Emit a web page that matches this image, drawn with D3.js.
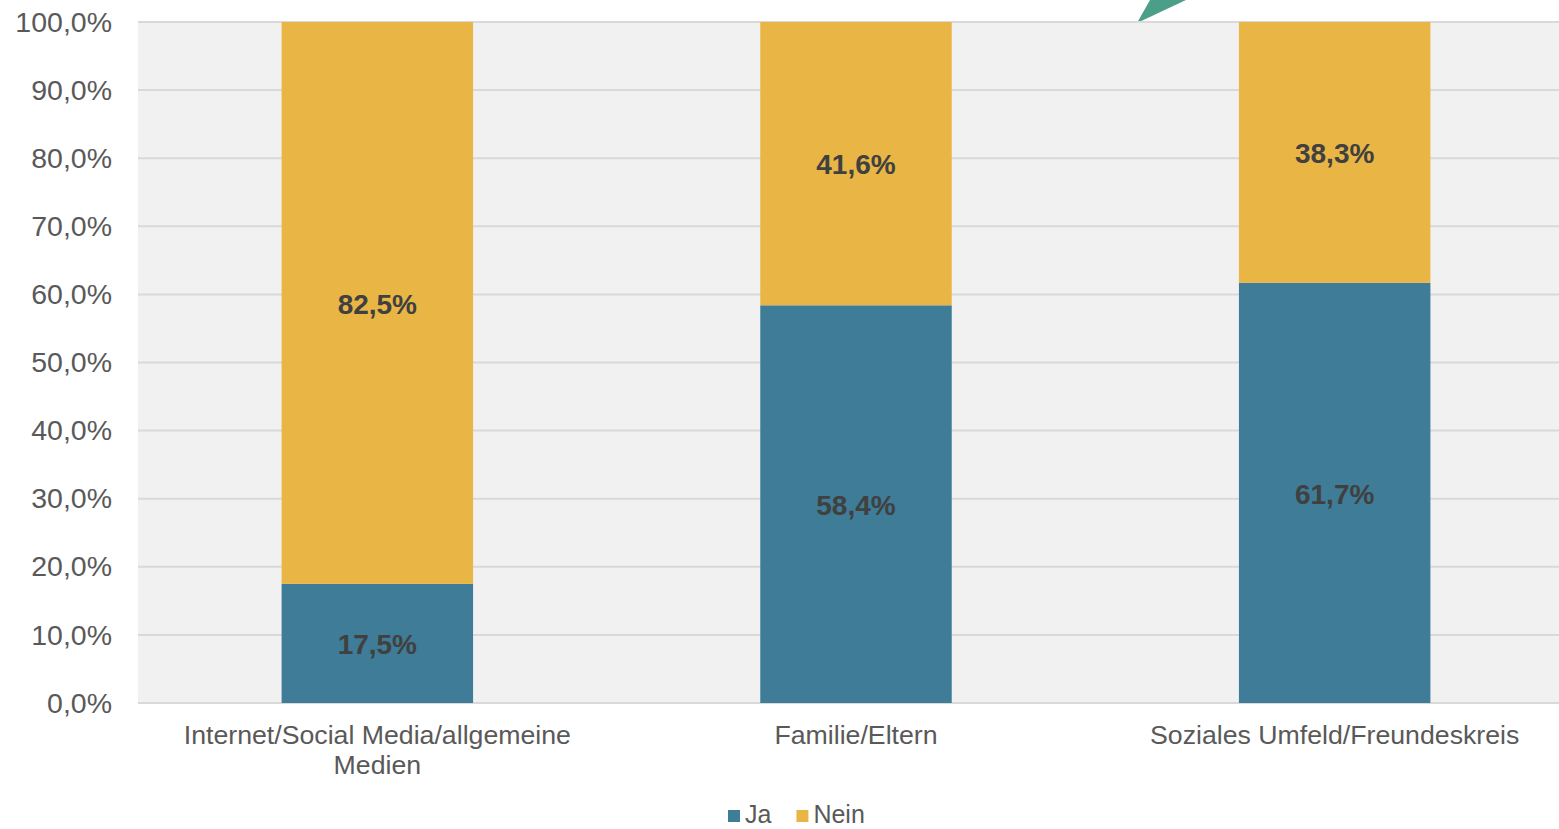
<!DOCTYPE html>
<html>
<head>
<meta charset="utf-8">
<script src="https://cdn.jsdelivr.net/npm/d3@7"></script>
<style>
body { margin: 0; background: #fff; }
svg { display: block; font-family: "Liberation Sans", Arial, sans-serif; }
</style>
</head>
<body>
<div id="chart"></div>
<script>
// data
var categories = ["Internet/Social Media/allgemeine Medien", "Familie/Eltern", "Soziales Umfeld/Freundeskreis"]
var seriesNames = ["Ja", "Nein"]
var ja = [17.5, 58.4, 61.7]
var nein = [82.5, 41.6, 38.3]
var yTicks = [0, 10, 20, 30, 40, 50, 60, 70, 80, 90, 100]

var colors = { Ja: "#3e7c97", Nein: "#e9b545" }

var width = 1559, height = 829
var margin = { top: 22, right: -15, bottom: 126, left: 138 }
var innerW = width - margin.left - margin.right
var innerH = height - margin.top - margin.bottom

var svg = d3.select("#chart")
  .append("svg")
  .attr("width", width)
  .attr("height", height)

// the little green shape peeking in at the top
svg.append("path")
  .attr("d", "M1137,23 L1150,0 L1186,0 Z")
  .attr("fill", "#4b9e88")

var g = svg.append("g")
  .attr("transform", "translate(" + margin.left + "," + margin.top + ")")

var x = d3.scaleBand()
  .domain(categories)
  .range([0, innerW])
  .paddingInner(0.6)
  .paddingOuter(0.3)

var y = d3.scaleLinear()
  .domain([0, 100])
  .range([innerH, 0])

var fmt = function(v) { return d3.format(".1f")(v).replace(".", ",") + "%" }

// plot background
g.append("rect")
  .attr("x", 0).attr("y", 0)
  .attr("width", innerW).attr("height", innerH)
  .attr("fill", "#f1f1f1")

// grid
g.selectAll(".grid")
  .data(yTicks)
  .enter()
  .append("line")
  .attr("x1", 0).attr("x2", innerW)
  .attr("y1", function(d) { return y(d) }).attr("y2", function(d) { return y(d) })
  .attr("stroke", "#d9d9d9")
  .attr("stroke-width", 2)

// y axis labels
var yAxis = g.append("g")
  .call(d3.axisLeft(y).tickValues(yTicks).tickFormat(fmt).tickSize(0).tickPadding(26))
yAxis.select(".domain").remove()
yAxis.selectAll("text")
  .style("font-size", "28.5px")
  .style("font-family", "'Liberation Sans', Arial, sans-serif")
  .attr("fill", "#595959")

// stacked bars
var rows = categories.map(function(c, i) { return { cat: c, Ja: ja[i], Nein: nein[i] } })
var stack = d3.stack().keys(seriesNames)(rows)

var layers = g.selectAll(".layer")
  .data(stack)
  .enter()
  .append("g")
  .attr("fill", function(d) { return colors[d.key] })

layers.selectAll("rect")
  .data(function(d) { return d })
  .enter()
  .append("rect")
  .attr("x", function(d) { return x(d.data.cat) })
  .attr("width", x.bandwidth())
  .attr("y", function(d) { return y(d[1]) })
  .attr("height", function(d) { return y(d[0]) - y(d[1]) })

layers.selectAll("text")
  .data(function(d) { return d.map(function(p) { return { p: p, key: d.key } }) })
  .enter()
  .append("text")
  .attr("x", function(d) { return x(d.p.data.cat) + x.bandwidth() / 2 })
  .attr("y", function(d) { return y((d.p[0] + d.p[1]) / 2) })
  .attr("dy", "0.38em")
  .attr("text-anchor", "middle")
  .attr("fill", "#404040")
  .style("font-size", "28px")
  .style("font-weight", "bold")
  .text(function(d) { return fmt(d.p.data[d.key]) })

// x axis labels
var xAxis = g.append("g")
  .attr("transform", "translate(0," + innerH + ")")
  .call(d3.axisBottom(x).tickSize(0).tickPadding(0))
xAxis.select(".domain").remove()
xAxis.selectAll("text").remove()
xAxis.selectAll(".tick").each(function(d) {
  var t = d3.select(this).append("text")
    .attr("text-anchor", "middle")
    .attr("fill", "#595959")
    .style("font-size", "26.7px")
  var lines = d === categories[0] ? ["Internet/Social Media/allgemeine", "Medien"] : [d]
  lines.forEach(function(l, i) {
    t.append("tspan").attr("x", 0).attr("y", 41 + i * 30).text(l)
  })
})

// legend
var legend = svg.append("g").attr("transform", "translate(728,814)")
var lx = 0
seriesNames.forEach(function(s) {
  legend.append("rect")
    .attr("x", lx).attr("y", -4)
    .attr("width", 12).attr("height", 12)
    .attr("fill", colors[s])
  var t = legend.append("text")
    .attr("x", lx + 17).attr("y", 0)
    .attr("dy", "0.34em")
    .attr("fill", "#595959")
    .style("font-size", "25px")
    .text(s)
  lx += 17 + t.node().getComputedTextLength() + 25
})
</script>
</body>
</html>
